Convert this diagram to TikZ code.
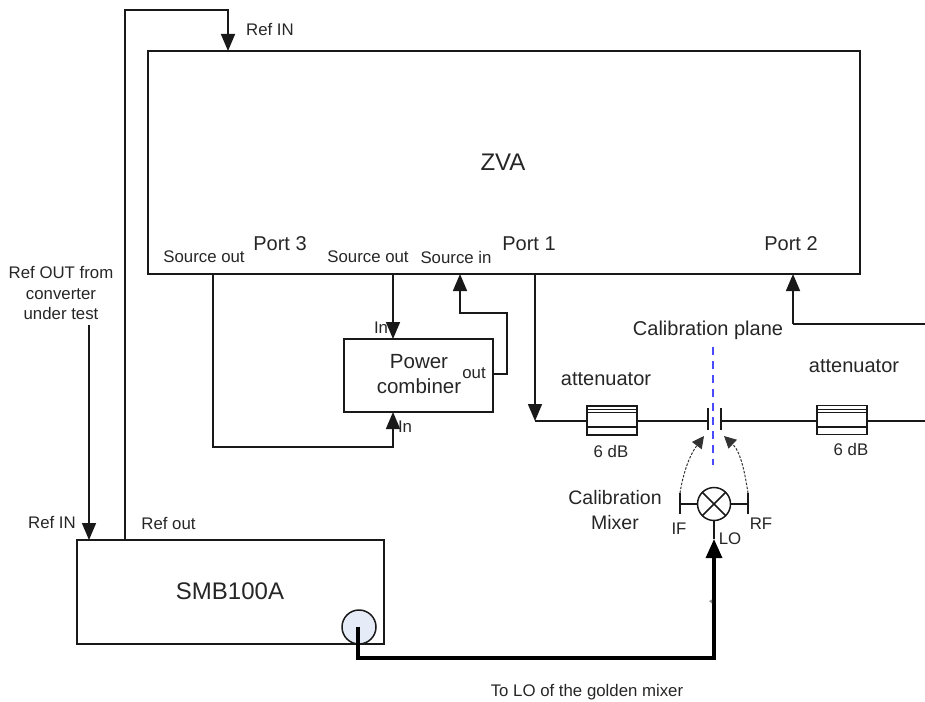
\documentclass[tikz,border=0pt]{standalone}
\usepackage{fontspec}
\setmainfont{Liberation Sans}
\usetikzlibrary{arrows.meta}
\definecolor{connfill}{HTML}{E6ECF7}
\tikzset{
  x=1pt,y=-1pt,
  every node/.style={inner sep=0pt,outer sep=0pt},
  txs/.style={font=\fontsize{16.8}{20.5}\selectfont,text=black!85,align=center},
  txb/.style={font=\fontsize{20}{24}\selectfont,text=black!85,align=center},
  txh/.style={font=\fontsize{24}{28}\selectfont,text=black!85,align=center},
  box/.style={draw=black!90,line width=1.5pt,rectangle,anchor=north west},
  wire/.style={draw=black!90,line width=1.6pt,line join=miter},
  arr/.style={wire,-{Triangle[length=17pt,width=14pt]}},
  thickwire/.style={draw=black,line width=3.2pt,-{Triangle[length=19pt,width=16pt]}},
  atten/.style={box,fill=white,minimum width=50pt,minimum height=29pt},
  dasharr/.style={black!80,line width=1pt,dash pattern=on 2.5pt off 1.5pt,-{Triangle[length=12pt,width=12pt]}},
}
\begin{document}
\begin{tikzpicture}
\useasboundingbox (0,0) rectangle (925,701);
% boxes
\node[box,minimum width=712pt,minimum height=223pt] (zva) at (148,51) {};
\node[box,minimum width=149pt,minimum height=73pt] (pc) at (344,339) {};
\node[box,minimum width=307pt,minimum height=104pt] (smb) at (77,540) {};
\node[draw=black!90,line width=1.5pt,fill=connfill,circle,minimum size=34pt] (conn) at (359,627) {};
% coordinates
\coordinate (refturnA) at (125,10);
\coordinate (refturnB) at (228,10);
\coordinate (refin) at (228,51);
\coordinate (refout) at (125,540);
\coordinate (refext) at (89,325);
\coordinate (smbin) at (89,540);
\coordinate (so1) at (213,274);
\coordinate (so1a) at (213,447);
\coordinate (so1b) at (393,447);
\coordinate (pcin2) at (393,412);
\coordinate (so2) at (393,274);
\coordinate (pcin1) at (393,339);
\coordinate (pcout) at (493,374);
\coordinate (pcouta) at (507,374);
\coordinate (pcoutb) at (507,313);
\coordinate (pcoutc) at (460,313);
\coordinate (sin) at (460,274);
\coordinate (p1) at (535,274);
\coordinate (p1a) at (535,421);
\coordinate (p2) at (793,274);
\coordinate (p2a) at (793,324);
\coordinate (p2b) at (925,324);
\coordinate (righte) at (925,421);
\coordinate (lo1) at (358,627);
\coordinate (lo2) at (358,658);
\coordinate (lo3) at (714,658);
\coordinate (lotip) at (714,539);
% attenuators
\node[atten] (a1) at (587,406) {};
\node[atten] (a2) at (817,405.5) {};
\foreach \xa/\xb in {587/637,817/868}{
  \draw[black!90,line width=1pt] (\xa,409) -- (\xb,409);
  \draw[black!90,line width=1pt] (\xa,412) -- (\xb,412);
  \draw[black!90,line width=2pt] (\xa,427) -- (\xb,427);
}
% plates
\coordinate (pl1t) at (708,408); \coordinate (pl1b) at (708,430); \coordinate (pl1m) at (708,421);
\coordinate (pl2t) at (721,408); \coordinate (pl2b) at (721,430); \coordinate (pl2m) at (721,421);
\coordinate (a1w) at (587,421); \coordinate (a1e) at (637,421);
\coordinate (a2w) at (817,421); \coordinate (a2e) at (868,421);
\draw[wire] (pl1t) -- (pl1b);
\draw[wire] (pl2t) -- (pl2b);
% connectors
\draw[arr] (refout) -- (refturnA) -- (refturnB) -- (refin);
\draw[arr] (refext) -- (smbin);
\draw[arr] (so1) -- (so1a) -- (so1b) -- (pcin2);
\draw[arr] (so2) -- (pcin1);
\draw[arr] (pcout) -- (pcouta) -- (pcoutb) -- (pcoutc) -- (sin);
\draw[arr] (p1) -- (p1a);
\draw[wire] (p1a) -- (a1w);
\draw[wire] (a1e) -- (pl1m);
\draw[wire] (pl2m) -- (a2w);
\draw[wire] (a2e) -- (righte);
\draw[arr] (p2a) -- (p2);
\draw[wire] (p2a) -- (p2b);
% calibration plane
\coordinate (cpt) at (713,347); \coordinate (cpb) at (713,465);
\draw[draw=blue!70!white,line width=1.3pt,dash pattern=on 8pt off 6pt] (cpt) -- (cpb);
% mixer
\node[draw=black!90,line width=1.5pt,circle,minimum size=33pt] (mix) at (714,504) {};
\draw[black!90,line width=1.5pt] (mix.45) -- (mix.225) (mix.135) -- (mix.315);
\coordinate (ift) at (680,493); \coordinate (ifb) at (680,514); \coordinate (ifm) at (680,504);
\coordinate (rft) at (748,493); \coordinate (rfb) at (748,514); \coordinate (rfm) at (748,504);
\draw[wire] (ift) -- (ifb);
\draw[wire] (rft) -- (rfb);
\draw[wire] (ifm) -- (mix.west);
\draw[wire] (rfm) -- (mix.east);
\draw[wire] (mix.south) -- (lotip);
\coordinate (ifarr) at (704,436); \coordinate (rfarr) at (724,436);
\draw[dasharr] (ift) .. controls (683,474) and (689,456) .. (ifarr);
\draw[dasharr] (rft) .. controls (745,474) and (741,452) .. (rfarr);
% thick
\draw[thickwire] (lo1) -- (lo2) -- (lo3) -- (lotip);
\fill[black!45] (709,601) -- (712,599.5) -- (712,603.5) -- cycle;
% text
\node[txs] (t1) at (270,30) {Ref IN};
\node[txh] (t2) at (503,162) {ZVA};
\node[txb] (t3) at (280,244) {Port 3};
\node[txb] (t4) at (529,244) {Port 1};
\node[txb] (t5) at (791,244) {Port 2};
\node[txs] (t6) at (204,257) {Source out};
\node[txs] (t7) at (368,257) {Source out};
\node[txs] (t8) at (456,257) {Source in};
\node[txs,align=center] (t9) at (61,293) {Ref OUT from\\converter\\under test};
\node[txs] (t10) at (381,328) {In};
\node[txs] (t11) at (405,427) {In};
\node[txs] (t12) at (474,373) {out};
\node[txb,font=\fontsize{20.5}{24.5}\selectfont] (t13) at (419,374) {Power\\combiner};
\node[txb] (t14) at (606,379) {attenuator};
\node[txb] (t15) at (854,366) {attenuator};
\node[txb] (t16) at (708,330) {Calibration plane};
\node[txs] (t17) at (611,451) {6 dB};
\node[txs] (t18) at (851,449) {6 dB};
\node[txb,font=\fontsize{19.5}{25}\selectfont] (t19) at (615,510) {Calibration\\Mixer};
\node[txs] (t20) at (679,529) {IF};
\node[txs] (t21) at (761,524) {RF};
\node[txs] (t22) at (730,539) {LO};
\node[txs] (t23) at (52,522) {Ref IN};
\node[txs] (t24) at (168.5,523) {Ref out};
\node[txh] (t25) at (230,591) {SMB100A};
\node[txs] (t26) at (587,692) {To LO of the golden mixer};
\end{tikzpicture}
\end{document}
